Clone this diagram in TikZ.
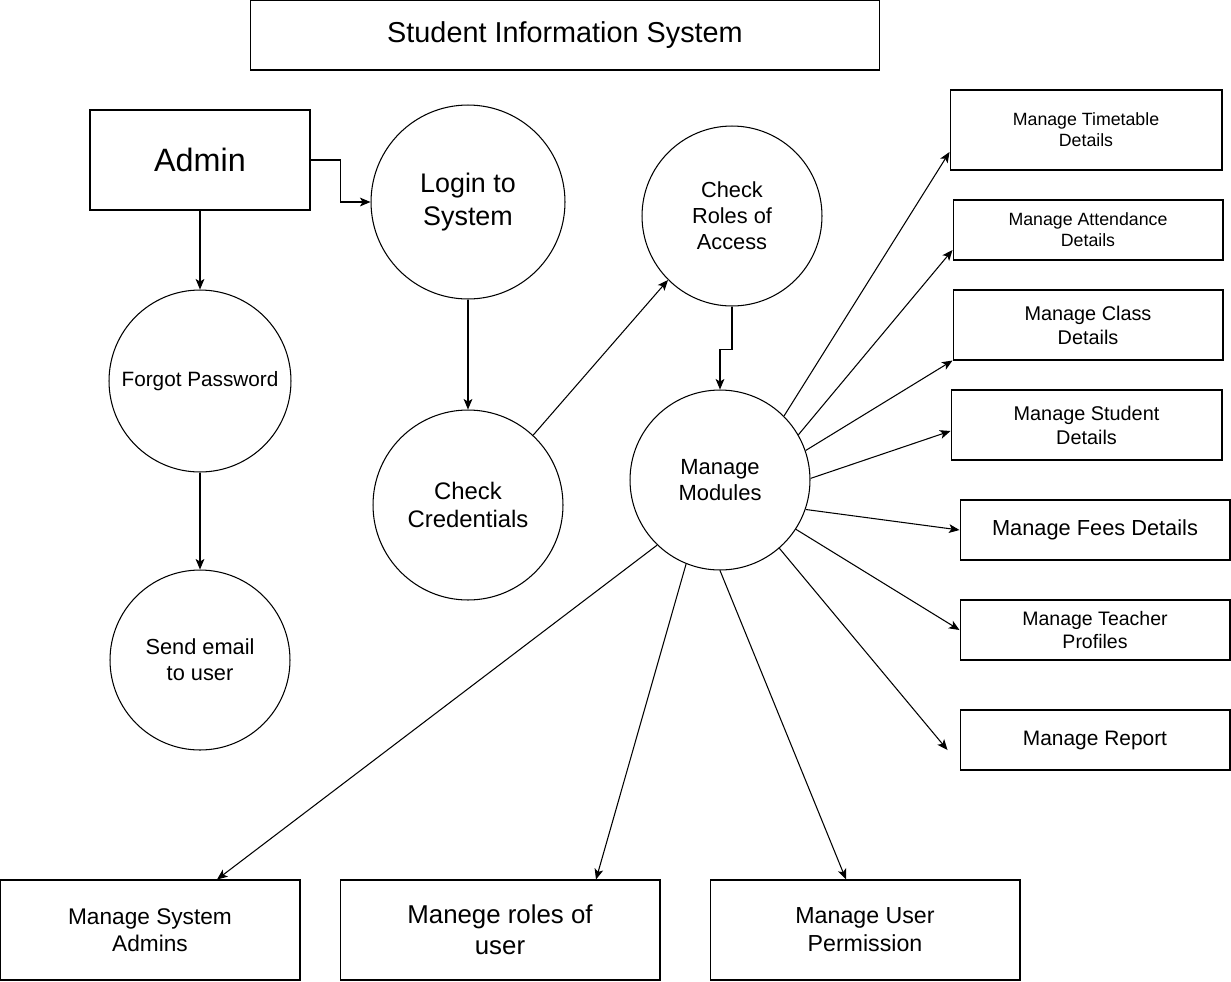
\documentclass[tikz,border=0pt]{standalone}
\usepackage{fontspec}
\setmainfont{Liberation Sans}
\usetikzlibrary{arrows.meta,calc}
\newcommand{\fs}[1]{\fontsize{#1}{1.2\dimexpr #1pt\relax}\selectfont}
\begin{document}
\begin{tikzpicture}[x=0.02cm,y=-0.02cm,
  line width=0.6pt,
  box/.style={draw,rectangle,inner sep=0pt,align=center},
  circ/.style={draw,circle,inner sep=0pt,align=center},
  arr/.style={-{Stealth[length=6pt,width=5pt,inset=1.5pt]}}]
\useasboundingbox (0,0) rectangle (1231,981);
% title
\node[box,minimum width=12.6cm,minimum height=1.4cm,font=\fs{16.4}] (ti) at (565,35) {Student Information System};
% left column
\node[box,minimum width=4.4cm,minimum height=2cm,font=\fs{18.4}] (ad) at (200,160) {Admin};
\node[circ,minimum size=3.64cm,font=\fs{11.8}] (fp) at (200,381) {Forgot Password};
\node[circ,minimum size=3.6cm,font=\fs{12.4}] (se) at (200,660) {Send email\\to user};
% middle
\node[circ,minimum size=3.88cm,font=\fs{15.3}] (li) at (468,202) {Login to\\System};
\node[circ,minimum size=3.8cm,font=\fs{13.6}] (cc) at (468,505) {Check\\Credentials};
\node[circ,minimum size=3.6cm,font=\fs{12.4}] (cr) at (732,216) {Check\\Roles of\\Access};
\node[circ,minimum size=3.6cm,font=\fs{12.5}] (mm) at (720,480) {Manage\\Modules};
% right boxes
\node[box,minimum width=5.44cm,minimum height=1.6cm,font=\fs{10.1}] (tt) at (1086,130) {Manage Timetable\\Details};
\node[box,minimum width=5.4cm,minimum height=1.2cm,font=\fs{10.1}] (at) at (1088,230) {Manage Attendance\\Details};
\node[box,minimum width=5.4cm,minimum height=1.4cm,font=\fs{11.3}] (cl) at (1088,325) {Manage Class\\Details};
\node[box,minimum width=5.42cm,minimum height=1.4cm,font=\fs{11.3}] (st) at (1086.5,425) {Manage Student\\Details};
\node[box,minimum width=5.4cm,minimum height=1.2cm,font=\fs{12.4}] (fe) at (1095,530) {Manage Fees Details};
\node[box,minimum width=5.4cm,minimum height=1.2cm,font=\fs{11.1}] (te) at (1095,630) {Manage Teacher\\Profiles};
\node[box,minimum width=5.4cm,minimum height=1.2cm,font=\fs{11.9}] (rp) at (1095,740) {Manage Report};
% bottom boxes
\node[box,minimum width=6.0cm,minimum height=2cm,font=\fs{12.9}] (sa) at (150,930) {Manage System\\Admins};
\node[box,minimum width=6.4cm,minimum height=2cm,font=\fs{14.7}] (ro) at (500,930) {Manege roles of\\user};
\node[box,minimum width=6.2cm,minimum height=2cm,font=\fs{13.2}] (up) at (865,930) {Manage User\\Permission};
% connectors
\draw[arr] (ad.east) -- ++(30,0) |- (li.west);
\draw[arr] (ad.south) -- (fp.north);
\draw[arr] (fp.south) -- (se.north);
\draw[arr] (li.south) -- (cc.north);
\draw[arr] (cc.47.6) -- (cr.225.5);
\draw[arr] (cr.south) -- ++(0,43) -| (mm.north);
\draw[arr] (mm.45) -- ($(tt.west)+(0,22)$);
\draw[arr] (mm.30) -- ($(at.west)+(0,20)$);
\draw[arr] (mm.19.6) -- (cl.south west);
\draw[arr] (mm.1) -- ($(st.west)+(0,6)$);
\draw[arr] (mm.-19) -- (fe.west);
\draw[arr] (mm.-33) -- (te.west);
\draw[arr] (mm.-49.5) -- ($(rp.west)+(-12,10)$);
\draw[arr] (mm.-134.6) -- ($(sa.north)+(67,0)$);
\draw[arr] (mm.-112.5) -- ($(ro.north)+(96,0)$);
\draw[arr] (mm.-90) -- ($(up.north)+(-19,0)$);
\end{tikzpicture}
\end{document}
